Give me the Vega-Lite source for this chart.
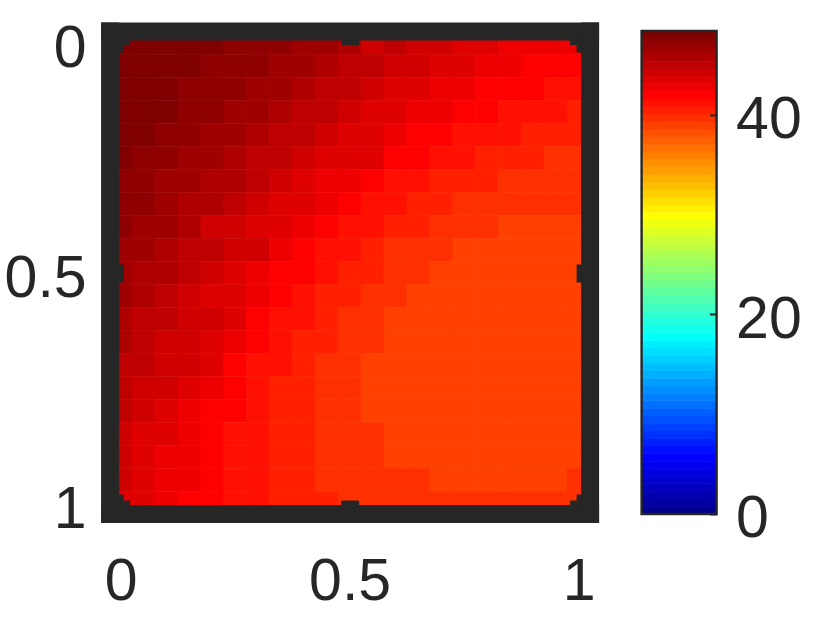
{"$schema":"https://vega.github.io/schema/vega-lite/v6.json","background":"white","padding":{"left":3.6,"top":19,"right":0,"bottom":0},"spacing":41,"config":{"view":{"stroke":null},"font":"Liberation Sans","axis":{"grid":false,"title":null,"labelFont":"Liberation Sans","labelFontSize":59,"labelColor":"#262626"}},"resolve":{"scale":{"color":"shared"}},"hconcat":[{"width":480,"height":482.5,"data":{"values":[
{"x":0,"y":0,"v":48.02},{"x":0.05,"y":0,"v":48.02},{"x":0.1,"y":0,"v":48.02},{"x":0.15,"y":0,"v":48.02},{"x":0.2,"y":0,"v":48.02},{"x":0.25,"y":0,"v":47.27},{"x":0.3,"y":0,"v":47.27},{"x":0.35,"y":0,"v":47.27},{"x":0.4,"y":0,"v":46.51},{"x":0.45,"y":0,"v":46.51},{"x":0.5,"y":0,"v":45.75},{"x":0.55,"y":0,"v":44.24},{"x":0.6,"y":0,"v":45},{"x":0.65,"y":0,"v":44.24},{"x":0.7,"y":0,"v":44.24},{"x":0.75,"y":0,"v":43.48},{"x":0.8,"y":0,"v":43.48},{"x":0.85,"y":0,"v":42.73},{"x":0.9,"y":0,"v":42.73},{"x":0.95,"y":0,"v":42.73},{"x":1,"y":0,"v":42.73},
{"x":0,"y":0.05,"v":48.02},{"x":0.05,"y":0.05,"v":48.02},{"x":0.1,"y":0.05,"v":48.02},{"x":0.15,"y":0.05,"v":48.02},{"x":0.2,"y":0.05,"v":47.27},{"x":0.25,"y":0.05,"v":47.27},{"x":0.3,"y":0.05,"v":47.27},{"x":0.35,"y":0.05,"v":46.51},{"x":0.4,"y":0.05,"v":46.51},{"x":0.45,"y":0.05,"v":45.75},{"x":0.5,"y":0.05,"v":45},{"x":0.55,"y":0.05,"v":45},{"x":0.6,"y":0.05,"v":44.24},{"x":0.65,"y":0.05,"v":44.24},{"x":0.7,"y":0.05,"v":43.48},{"x":0.75,"y":0.05,"v":43.48},{"x":0.8,"y":0.05,"v":42.73},{"x":0.85,"y":0.05,"v":42.73},{"x":0.9,"y":0.05,"v":41.97},{"x":0.95,"y":0.05,"v":41.97},{"x":1,"y":0.05,"v":41.97},
{"x":0,"y":0.1,"v":48.02},{"x":0.05,"y":0.1,"v":48.02},{"x":0.1,"y":0.1,"v":48.02},{"x":0.15,"y":0.1,"v":47.27},{"x":0.2,"y":0.1,"v":47.27},{"x":0.25,"y":0.1,"v":47.27},{"x":0.3,"y":0.1,"v":46.51},{"x":0.35,"y":0.1,"v":46.51},{"x":0.4,"y":0.1,"v":45.75},{"x":0.45,"y":0.1,"v":45},{"x":0.5,"y":0.1,"v":45},{"x":0.55,"y":0.1,"v":44.24},{"x":0.6,"y":0.1,"v":43.48},{"x":0.65,"y":0.1,"v":43.48},{"x":0.7,"y":0.1,"v":42.73},{"x":0.75,"y":0.1,"v":42.73},{"x":0.8,"y":0.1,"v":41.97},{"x":0.85,"y":0.1,"v":41.97},{"x":0.9,"y":0.1,"v":41.97},{"x":0.95,"y":0.1,"v":41.22},{"x":1,"y":0.1,"v":41.22},
{"x":0,"y":0.15,"v":48.02},{"x":0.05,"y":0.15,"v":48.02},{"x":0.1,"y":0.15,"v":48.02},{"x":0.15,"y":0.15,"v":47.27},{"x":0.2,"y":0.15,"v":47.27},{"x":0.25,"y":0.15,"v":46.51},{"x":0.3,"y":0.15,"v":46.51},{"x":0.35,"y":0.15,"v":45.75},{"x":0.4,"y":0.15,"v":45},{"x":0.45,"y":0.15,"v":45},{"x":0.5,"y":0.15,"v":44.24},{"x":0.55,"y":0.15,"v":43.48},{"x":0.6,"y":0.15,"v":43.48},{"x":0.65,"y":0.15,"v":42.73},{"x":0.7,"y":0.15,"v":42.73},{"x":0.75,"y":0.15,"v":41.97},{"x":0.8,"y":0.15,"v":41.97},{"x":0.85,"y":0.15,"v":41.22},{"x":0.9,"y":0.15,"v":41.22},{"x":0.95,"y":0.15,"v":41.22},{"x":1,"y":0.15,"v":40.46},
{"x":0,"y":0.2,"v":48.02},{"x":0.05,"y":0.2,"v":48.02},{"x":0.1,"y":0.2,"v":47.27},{"x":0.15,"y":0.2,"v":47.27},{"x":0.2,"y":0.2,"v":46.51},{"x":0.25,"y":0.2,"v":46.51},{"x":0.3,"y":0.2,"v":45.75},{"x":0.35,"y":0.2,"v":45},{"x":0.4,"y":0.2,"v":45},{"x":0.45,"y":0.2,"v":44.24},{"x":0.5,"y":0.2,"v":43.48},{"x":0.55,"y":0.2,"v":43.48},{"x":0.6,"y":0.2,"v":42.73},{"x":0.65,"y":0.2,"v":41.97},{"x":0.7,"y":0.2,"v":41.97},{"x":0.75,"y":0.2,"v":41.22},{"x":0.8,"y":0.2,"v":41.22},{"x":0.85,"y":0.2,"v":41.22},{"x":0.9,"y":0.2,"v":40.46},{"x":0.95,"y":0.2,"v":40.46},{"x":1,"y":0.2,"v":40.46},
{"x":0,"y":0.25,"v":48.02},{"x":0.05,"y":0.25,"v":47.27},{"x":0.1,"y":0.25,"v":47.27},{"x":0.15,"y":0.25,"v":46.51},{"x":0.2,"y":0.25,"v":46.51},{"x":0.25,"y":0.25,"v":45.75},{"x":0.3,"y":0.25,"v":45},{"x":0.35,"y":0.25,"v":45},{"x":0.4,"y":0.25,"v":44.24},{"x":0.45,"y":0.25,"v":43.48},{"x":0.5,"y":0.25,"v":43.48},{"x":0.55,"y":0.25,"v":43.48},{"x":0.6,"y":0.25,"v":41.97},{"x":0.65,"y":0.25,"v":41.97},{"x":0.7,"y":0.25,"v":41.22},{"x":0.75,"y":0.25,"v":41.22},{"x":0.8,"y":0.25,"v":40.46},{"x":0.85,"y":0.25,"v":40.46},{"x":0.9,"y":0.25,"v":40.46},{"x":0.95,"y":0.25,"v":39.7},{"x":1,"y":0.25,"v":39.7},
{"x":0,"y":0.3,"v":47.27},{"x":0.05,"y":0.3,"v":47.27},{"x":0.1,"y":0.3,"v":46.51},{"x":0.15,"y":0.3,"v":46.51},{"x":0.2,"y":0.3,"v":45.75},{"x":0.25,"y":0.3,"v":45.75},{"x":0.3,"y":0.3,"v":45},{"x":0.35,"y":0.3,"v":44.24},{"x":0.4,"y":0.3,"v":43.48},{"x":0.45,"y":0.3,"v":42.73},{"x":0.5,"y":0.3,"v":42.73},{"x":0.55,"y":0.3,"v":41.97},{"x":0.6,"y":0.3,"v":41.22},{"x":0.65,"y":0.3,"v":41.22},{"x":0.7,"y":0.3,"v":40.46},{"x":0.75,"y":0.3,"v":40.46},{"x":0.8,"y":0.3,"v":40.46},{"x":0.85,"y":0.3,"v":39.7},{"x":0.9,"y":0.3,"v":39.7},{"x":0.95,"y":0.3,"v":39.7},{"x":1,"y":0.3,"v":39.7},
{"x":0,"y":0.35,"v":47.27},{"x":0.05,"y":0.35,"v":47.27},{"x":0.1,"y":0.35,"v":46.51},{"x":0.15,"y":0.35,"v":45.75},{"x":0.2,"y":0.35,"v":45.75},{"x":0.25,"y":0.35,"v":45},{"x":0.3,"y":0.35,"v":44.24},{"x":0.35,"y":0.35,"v":43.48},{"x":0.4,"y":0.35,"v":43.48},{"x":0.45,"y":0.35,"v":42.73},{"x":0.5,"y":0.35,"v":41.97},{"x":0.55,"y":0.35,"v":41.22},{"x":0.6,"y":0.35,"v":41.22},{"x":0.65,"y":0.35,"v":40.46},{"x":0.7,"y":0.35,"v":40.46},{"x":0.75,"y":0.35,"v":39.7},{"x":0.8,"y":0.35,"v":39.7},{"x":0.85,"y":0.35,"v":39.7},{"x":0.9,"y":0.35,"v":39.7},{"x":0.95,"y":0.35,"v":39.7},{"x":1,"y":0.35,"v":39.7},
{"x":0,"y":0.4,"v":47.27},{"x":0.05,"y":0.4,"v":46.51},{"x":0.1,"y":0.4,"v":46.51},{"x":0.15,"y":0.4,"v":45.75},{"x":0.2,"y":0.4,"v":44.24},{"x":0.25,"y":0.4,"v":44.24},{"x":0.3,"y":0.4,"v":43.48},{"x":0.35,"y":0.4,"v":43.48},{"x":0.4,"y":0.4,"v":42.73},{"x":0.45,"y":0.4,"v":41.97},{"x":0.5,"y":0.4,"v":41.22},{"x":0.55,"y":0.4,"v":41.22},{"x":0.6,"y":0.4,"v":40.46},{"x":0.65,"y":0.4,"v":40.46},{"x":0.7,"y":0.4,"v":39.7},{"x":0.75,"y":0.4,"v":39.7},{"x":0.8,"y":0.4,"v":39.7},{"x":0.85,"y":0.4,"v":38.95},{"x":0.9,"y":0.4,"v":38.95},{"x":0.95,"y":0.4,"v":38.95},{"x":1,"y":0.4,"v":38.95},
{"x":0,"y":0.45,"v":46.51},{"x":0.05,"y":0.45,"v":46.51},{"x":0.1,"y":0.45,"v":45.75},{"x":0.15,"y":0.45,"v":45},{"x":0.2,"y":0.45,"v":45},{"x":0.25,"y":0.45,"v":44.24},{"x":0.3,"y":0.45,"v":44.24},{"x":0.35,"y":0.45,"v":42.73},{"x":0.4,"y":0.45,"v":41.97},{"x":0.45,"y":0.45,"v":41.22},{"x":0.5,"y":0.45,"v":41.22},{"x":0.55,"y":0.45,"v":40.46},{"x":0.6,"y":0.45,"v":39.7},{"x":0.65,"y":0.45,"v":39.7},{"x":0.7,"y":0.45,"v":39.7},{"x":0.75,"y":0.45,"v":38.95},{"x":0.8,"y":0.45,"v":38.95},{"x":0.85,"y":0.45,"v":38.95},{"x":0.9,"y":0.45,"v":38.95},{"x":0.95,"y":0.45,"v":38.95},{"x":1,"y":0.45,"v":38.95},
{"x":0,"y":0.5,"v":46.51},{"x":0.05,"y":0.5,"v":45.75},{"x":0.1,"y":0.5,"v":45.75},{"x":0.15,"y":0.5,"v":45},{"x":0.2,"y":0.5,"v":44.24},{"x":0.25,"y":0.5,"v":43.48},{"x":0.3,"y":0.5,"v":42.73},{"x":0.35,"y":0.5,"v":41.97},{"x":0.4,"y":0.5,"v":41.97},{"x":0.45,"y":0.5,"v":41.22},{"x":0.5,"y":0.5,"v":40.46},{"x":0.55,"y":0.5,"v":40.46},{"x":0.6,"y":0.5,"v":39.7},{"x":0.65,"y":0.5,"v":39.7},{"x":0.7,"y":0.5,"v":38.95},{"x":0.75,"y":0.5,"v":38.95},{"x":0.8,"y":0.5,"v":38.95},{"x":0.85,"y":0.5,"v":38.95},{"x":0.9,"y":0.5,"v":38.95},{"x":0.95,"y":0.5,"v":38.95},{"x":1,"y":0.5,"v":38.95},
{"x":0,"y":0.55,"v":46.51},{"x":0.05,"y":0.55,"v":45.75},{"x":0.1,"y":0.55,"v":45},{"x":0.15,"y":0.55,"v":44.24},{"x":0.2,"y":0.55,"v":43.48},{"x":0.25,"y":0.55,"v":43.48},{"x":0.3,"y":0.55,"v":42.73},{"x":0.35,"y":0.55,"v":41.97},{"x":0.4,"y":0.55,"v":41.22},{"x":0.45,"y":0.55,"v":40.46},{"x":0.5,"y":0.55,"v":40.46},{"x":0.55,"y":0.55,"v":39.7},{"x":0.6,"y":0.55,"v":39.7},{"x":0.65,"y":0.55,"v":38.95},{"x":0.7,"y":0.55,"v":38.95},{"x":0.75,"y":0.55,"v":38.95},{"x":0.8,"y":0.55,"v":38.95},{"x":0.85,"y":0.55,"v":38.95},{"x":0.9,"y":0.55,"v":38.95},{"x":0.95,"y":0.55,"v":38.95},{"x":1,"y":0.55,"v":38.95},
{"x":0,"y":0.6,"v":45.75},{"x":0.05,"y":0.6,"v":45},{"x":0.1,"y":0.6,"v":45},{"x":0.15,"y":0.6,"v":44.24},{"x":0.2,"y":0.6,"v":44.24},{"x":0.25,"y":0.6,"v":43.48},{"x":0.3,"y":0.6,"v":41.97},{"x":0.35,"y":0.6,"v":41.22},{"x":0.4,"y":0.6,"v":41.22},{"x":0.45,"y":0.6,"v":40.46},{"x":0.5,"y":0.6,"v":39.7},{"x":0.55,"y":0.6,"v":39.7},{"x":0.6,"y":0.6,"v":38.95},{"x":0.65,"y":0.6,"v":38.95},{"x":0.7,"y":0.6,"v":38.95},{"x":0.75,"y":0.6,"v":38.95},{"x":0.8,"y":0.6,"v":38.95},{"x":0.85,"y":0.6,"v":38.95},{"x":0.9,"y":0.6,"v":38.95},{"x":0.95,"y":0.6,"v":38.95},{"x":1,"y":0.6,"v":38.95},
{"x":0,"y":0.65,"v":45.75},{"x":0.05,"y":0.65,"v":45},{"x":0.1,"y":0.65,"v":44.24},{"x":0.15,"y":0.65,"v":44.24},{"x":0.2,"y":0.65,"v":43.48},{"x":0.25,"y":0.65,"v":42.73},{"x":0.3,"y":0.65,"v":41.97},{"x":0.35,"y":0.65,"v":41.22},{"x":0.4,"y":0.65,"v":40.46},{"x":0.45,"y":0.65,"v":40.46},{"x":0.5,"y":0.65,"v":39.7},{"x":0.55,"y":0.65,"v":39.7},{"x":0.6,"y":0.65,"v":38.95},{"x":0.65,"y":0.65,"v":38.95},{"x":0.7,"y":0.65,"v":38.95},{"x":0.75,"y":0.65,"v":38.95},{"x":0.8,"y":0.65,"v":38.95},{"x":0.85,"y":0.65,"v":38.95},{"x":0.9,"y":0.65,"v":38.95},{"x":0.95,"y":0.65,"v":38.95},{"x":1,"y":0.65,"v":38.95},
{"x":0,"y":0.7,"v":45},{"x":0.05,"y":0.7,"v":45},{"x":0.1,"y":0.7,"v":44.24},{"x":0.15,"y":0.7,"v":44.24},{"x":0.2,"y":0.7,"v":43.48},{"x":0.25,"y":0.7,"v":41.97},{"x":0.3,"y":0.7,"v":41.22},{"x":0.35,"y":0.7,"v":41.22},{"x":0.4,"y":0.7,"v":40.46},{"x":0.45,"y":0.7,"v":39.7},{"x":0.5,"y":0.7,"v":39.7},{"x":0.55,"y":0.7,"v":38.95},{"x":0.6,"y":0.7,"v":38.95},{"x":0.65,"y":0.7,"v":38.95},{"x":0.7,"y":0.7,"v":38.95},{"x":0.75,"y":0.7,"v":38.95},{"x":0.8,"y":0.7,"v":38.95},{"x":0.85,"y":0.7,"v":38.95},{"x":0.9,"y":0.7,"v":38.95},{"x":0.95,"y":0.7,"v":38.95},{"x":1,"y":0.7,"v":38.95},
{"x":0,"y":0.75,"v":45},{"x":0.05,"y":0.75,"v":44.24},{"x":0.1,"y":0.75,"v":44.24},{"x":0.15,"y":0.75,"v":43.48},{"x":0.2,"y":0.75,"v":42.73},{"x":0.25,"y":0.75,"v":41.97},{"x":0.3,"y":0.75,"v":41.22},{"x":0.35,"y":0.75,"v":40.46},{"x":0.4,"y":0.75,"v":40.46},{"x":0.45,"y":0.75,"v":39.7},{"x":0.5,"y":0.75,"v":39.7},{"x":0.55,"y":0.75,"v":38.95},{"x":0.6,"y":0.75,"v":38.95},{"x":0.65,"y":0.75,"v":38.95},{"x":0.7,"y":0.75,"v":38.95},{"x":0.75,"y":0.75,"v":38.95},{"x":0.8,"y":0.75,"v":38.95},{"x":0.85,"y":0.75,"v":38.95},{"x":0.9,"y":0.75,"v":38.95},{"x":0.95,"y":0.75,"v":38.95},{"x":1,"y":0.75,"v":38.95},
{"x":0,"y":0.8,"v":45},{"x":0.05,"y":0.8,"v":44.24},{"x":0.1,"y":0.8,"v":43.48},{"x":0.15,"y":0.8,"v":42.73},{"x":0.2,"y":0.8,"v":41.97},{"x":0.25,"y":0.8,"v":41.97},{"x":0.3,"y":0.8,"v":41.22},{"x":0.35,"y":0.8,"v":40.46},{"x":0.4,"y":0.8,"v":40.46},{"x":0.45,"y":0.8,"v":39.7},{"x":0.5,"y":0.8,"v":39.7},{"x":0.55,"y":0.8,"v":38.95},{"x":0.6,"y":0.8,"v":38.95},{"x":0.65,"y":0.8,"v":38.95},{"x":0.7,"y":0.8,"v":38.95},{"x":0.75,"y":0.8,"v":38.95},{"x":0.8,"y":0.8,"v":38.95},{"x":0.85,"y":0.8,"v":38.95},{"x":0.9,"y":0.8,"v":38.95},{"x":0.95,"y":0.8,"v":38.95},{"x":1,"y":0.8,"v":38.95},
{"x":0,"y":0.85,"v":44.24},{"x":0.05,"y":0.85,"v":43.48},{"x":0.1,"y":0.85,"v":43.48},{"x":0.15,"y":0.85,"v":42.73},{"x":0.2,"y":0.85,"v":41.97},{"x":0.25,"y":0.85,"v":41.22},{"x":0.3,"y":0.85,"v":41.22},{"x":0.35,"y":0.85,"v":40.46},{"x":0.4,"y":0.85,"v":40.46},{"x":0.45,"y":0.85,"v":39.7},{"x":0.5,"y":0.85,"v":39.7},{"x":0.55,"y":0.85,"v":39.7},{"x":0.6,"y":0.85,"v":38.95},{"x":0.65,"y":0.85,"v":38.95},{"x":0.7,"y":0.85,"v":38.95},{"x":0.75,"y":0.85,"v":38.95},{"x":0.8,"y":0.85,"v":38.95},{"x":0.85,"y":0.85,"v":38.95},{"x":0.9,"y":0.85,"v":38.95},{"x":0.95,"y":0.85,"v":38.95},{"x":1,"y":0.85,"v":38.95},
{"x":0,"y":0.9,"v":44.24},{"x":0.05,"y":0.9,"v":43.48},{"x":0.1,"y":0.9,"v":42.73},{"x":0.15,"y":0.9,"v":42.73},{"x":0.2,"y":0.9,"v":41.97},{"x":0.25,"y":0.9,"v":41.22},{"x":0.3,"y":0.9,"v":41.22},{"x":0.35,"y":0.9,"v":40.46},{"x":0.4,"y":0.9,"v":40.46},{"x":0.45,"y":0.9,"v":39.7},{"x":0.5,"y":0.9,"v":39.7},{"x":0.55,"y":0.9,"v":39.7},{"x":0.6,"y":0.9,"v":38.95},{"x":0.65,"y":0.9,"v":38.95},{"x":0.7,"y":0.9,"v":38.95},{"x":0.75,"y":0.9,"v":38.95},{"x":0.8,"y":0.9,"v":38.95},{"x":0.85,"y":0.9,"v":38.95},{"x":0.9,"y":0.9,"v":38.95},{"x":0.95,"y":0.9,"v":38.95},{"x":1,"y":0.9,"v":38.95},
{"x":0,"y":0.95,"v":44.24},{"x":0.05,"y":0.95,"v":43.48},{"x":0.1,"y":0.95,"v":42.73},{"x":0.15,"y":0.95,"v":42.73},{"x":0.2,"y":0.95,"v":41.97},{"x":0.25,"y":0.95,"v":41.22},{"x":0.3,"y":0.95,"v":41.22},{"x":0.35,"y":0.95,"v":40.46},{"x":0.4,"y":0.95,"v":40.46},{"x":0.45,"y":0.95,"v":39.7},{"x":0.5,"y":0.95,"v":39.7},{"x":0.55,"y":0.95,"v":39.7},{"x":0.6,"y":0.95,"v":39.7},{"x":0.65,"y":0.95,"v":39.7},{"x":0.7,"y":0.95,"v":38.95},{"x":0.75,"y":0.95,"v":38.95},{"x":0.8,"y":0.95,"v":38.95},{"x":0.85,"y":0.95,"v":38.95},{"x":0.9,"y":0.95,"v":38.95},{"x":0.95,"y":0.95,"v":38.95},{"x":1,"y":0.95,"v":39.7},
{"x":0,"y":1,"v":43.48},{"x":0.05,"y":1,"v":43.48},{"x":0.1,"y":1,"v":42.73},{"x":0.15,"y":1,"v":41.97},{"x":0.2,"y":1,"v":41.97},{"x":0.25,"y":1,"v":41.22},{"x":0.3,"y":1,"v":41.22},{"x":0.35,"y":1,"v":40.46},{"x":0.4,"y":1,"v":40.46},{"x":0.45,"y":1,"v":40.46},{"x":0.5,"y":1,"v":39.7},{"x":0.55,"y":1,"v":39.7},{"x":0.6,"y":1,"v":39.7},{"x":0.65,"y":1,"v":39.7},{"x":0.7,"y":1,"v":39.7},{"x":0.75,"y":1,"v":39.7},{"x":0.8,"y":1,"v":39.7},{"x":0.85,"y":1,"v":39.7},{"x":0.9,"y":1,"v":39.7},{"x":0.95,"y":1,"v":39.7},{"x":1,"y":1,"v":39.7}
]},"resolve":{"axis":{"x":"independent","y":"independent"}},"layer":[{"mark":{"type":"rect","width":23.6,"height":23.6},"encoding":{"x":{"field":"x","type":"quantitative","scale":{"domain":[-0.024,1.024],"nice":false,"zero":false},"axis":{"orient":"bottom","values":[0,0.5,1],"format":"~g","zindex":1,"domainWidth":18,"domainColor":"#262626","domainCap":"square","tickColor":"#262626","tickWidth":18,"tickSize":-13.5,"labelPadding":53,"labelFlush":false,"labelOverlap":false}},"y":{"field":"y","type":"quantitative","scale":{"domain":[-0.026,1.0228],"reverse":true,"nice":false,"zero":false},"axis":{"orient":"left","values":[0,0.5,1],"format":"~g","zindex":1,"domainWidth":18,"domainColor":"#262626","domainCap":"square","tickColor":"#262626","tickWidth":18,"tickSize":-13.5,"labelPadding":37,"labelOffset":6,"labelFlush":false,"labelOverlap":false}},"color":{"field":"v","type":"quantitative","legend":null,"scale":{"type":"quantize","domain":[0,48.4],"range":["#00008f","#00009f","#0000af","#0000bf","#0000cf","#0000df","#0000ef","#0000ff","#0010ff","#0020ff","#0030ff","#0040ff","#0050ff","#0060ff","#0070ff","#0080ff","#008fff","#009fff","#00afff","#00bfff","#00cfff","#00dfff","#00efff","#00ffff","#10ffef","#20ffdf","#30ffcf","#40ffbf","#50ffaf","#60ff9f","#70ff8f","#80ff80","#8fff70","#9fff60","#afff50","#bfff40","#cfff30","#dfff20","#efff10","#ffff00","#ffef00","#ffdf00","#ffcf00","#ffbf00","#ffaf00","#ff9f00","#ff8f00","#ff8000","#ff7000","#ff6000","#ff5000","#ff4000","#ff3000","#ff2000","#ff1000","#ff0000","#ef0000","#df0000","#cf0000","#bf0000","#af0000","#9f0000","#8f0000","#800000"]}}}},{"data":{"values":[{"x":0,"y":0}]},"mark":{"type":"point","opacity":0},"encoding":{"x":{"field":"x","type":"quantitative","scale":{"domain":[-0.024,1.024],"nice":false,"zero":false},"axis":{"orient":"top","values":[0,0.5,1],"labels":false,"zindex":1,"domainWidth":18,"domainColor":"#262626","domainCap":"square","tickColor":"#262626","tickWidth":18,"tickSize":-13.5}},"y":{"field":"y","type":"quantitative","scale":{"domain":[-0.026,1.0228],"reverse":true,"nice":false,"zero":false},"axis":{"orient":"right","values":[0,0.5,1],"labels":false,"zindex":1,"domainWidth":18,"domainColor":"#262626","domainCap":"square","tickColor":"#262626","tickWidth":18,"tickSize":-13.5}}}}]},
{"width":75,"height":483,"data":{"values":[{"lo":0,"hi":0.756,"v":0.378},{"lo":0.756,"hi":1.513,"v":1.134},{"lo":1.513,"hi":2.269,"v":1.891},{"lo":2.269,"hi":3.025,"v":2.647},{"lo":3.025,"hi":3.781,"v":3.403},{"lo":3.781,"hi":4.538,"v":4.159},{"lo":4.538,"hi":5.294,"v":4.916},{"lo":5.294,"hi":6.05,"v":5.672},{"lo":6.05,"hi":6.806,"v":6.428},{"lo":6.806,"hi":7.563,"v":7.184},{"lo":7.563,"hi":8.319,"v":7.941},{"lo":8.319,"hi":9.075,"v":8.697},{"lo":9.075,"hi":9.831,"v":9.453},{"lo":9.831,"hi":10.588,"v":10.209},{"lo":10.588,"hi":11.344,"v":10.966},{"lo":11.344,"hi":12.1,"v":11.722},{"lo":12.1,"hi":12.856,"v":12.478},{"lo":12.856,"hi":13.613,"v":13.234},{"lo":13.613,"hi":14.369,"v":13.991},{"lo":14.369,"hi":15.125,"v":14.747},{"lo":15.125,"hi":15.881,"v":15.503},{"lo":15.881,"hi":16.638,"v":16.259},{"lo":16.638,"hi":17.394,"v":17.016},{"lo":17.394,"hi":18.15,"v":17.772},{"lo":18.15,"hi":18.906,"v":18.528},{"lo":18.906,"hi":19.663,"v":19.284},{"lo":19.663,"hi":20.419,"v":20.041},{"lo":20.419,"hi":21.175,"v":20.797},{"lo":21.175,"hi":21.931,"v":21.553},{"lo":21.931,"hi":22.688,"v":22.309},{"lo":22.688,"hi":23.444,"v":23.066},{"lo":23.444,"hi":24.2,"v":23.822},{"lo":24.2,"hi":24.956,"v":24.578},{"lo":24.956,"hi":25.713,"v":25.334},{"lo":25.713,"hi":26.469,"v":26.091},{"lo":26.469,"hi":27.225,"v":26.847},{"lo":27.225,"hi":27.981,"v":27.603},{"lo":27.981,"hi":28.738,"v":28.359},{"lo":28.738,"hi":29.494,"v":29.116},{"lo":29.494,"hi":30.25,"v":29.872},{"lo":30.25,"hi":31.006,"v":30.628},{"lo":31.006,"hi":31.763,"v":31.384},{"lo":31.763,"hi":32.519,"v":32.141},{"lo":32.519,"hi":33.275,"v":32.897},{"lo":33.275,"hi":34.031,"v":33.653},{"lo":34.031,"hi":34.788,"v":34.409},{"lo":34.788,"hi":35.544,"v":35.166},{"lo":35.544,"hi":36.3,"v":35.922},{"lo":36.3,"hi":37.056,"v":36.678},{"lo":37.056,"hi":37.813,"v":37.434},{"lo":37.813,"hi":38.569,"v":38.191},{"lo":38.569,"hi":39.325,"v":38.947},{"lo":39.325,"hi":40.081,"v":39.703},{"lo":40.081,"hi":40.838,"v":40.459},{"lo":40.838,"hi":41.594,"v":41.216},{"lo":41.594,"hi":42.35,"v":41.972},{"lo":42.35,"hi":43.106,"v":42.728},{"lo":43.106,"hi":43.863,"v":43.484},{"lo":43.863,"hi":44.619,"v":44.241},{"lo":44.619,"hi":45.375,"v":44.997},{"lo":45.375,"hi":46.131,"v":45.753},{"lo":46.131,"hi":46.888,"v":46.509},{"lo":46.888,"hi":47.644,"v":47.266},{"lo":47.644,"hi":48.4,"v":48.022}]},"layer":[{"mark":{"type":"rect","strokeWidth":0.7},"encoding":{"y":{"field":"lo","type":"quantitative","scale":{"domain":[0,48.4],"nice":false,"zero":false},"axis":{"orient":"right","values":[0,20,40],"zindex":1,"domain":false,"tickColor":"#262626","tickWidth":2,"tickSize":-7,"labelPadding":26,"labelOffset":5,"labelFlush":false,"labelOverlap":false}},"y2":{"field":"hi"},"color":{"field":"v","type":"quantitative","legend":null,"scale":{"type":"quantize","domain":[0,48.4],"range":["#00008f","#00009f","#0000af","#0000bf","#0000cf","#0000df","#0000ef","#0000ff","#0010ff","#0020ff","#0030ff","#0040ff","#0050ff","#0060ff","#0070ff","#0080ff","#008fff","#009fff","#00afff","#00bfff","#00cfff","#00dfff","#00efff","#00ffff","#10ffef","#20ffdf","#30ffcf","#40ffbf","#50ffaf","#60ff9f","#70ff8f","#80ff80","#8fff70","#9fff60","#afff50","#bfff40","#cfff30","#dfff20","#efff10","#ffff00","#ffef00","#ffdf00","#ffcf00","#ffbf00","#ffaf00","#ff9f00","#ff8f00","#ff8000","#ff7000","#ff6000","#ff5000","#ff4000","#ff3000","#ff2000","#ff1000","#ff0000","#ef0000","#df0000","#cf0000","#bf0000","#af0000","#9f0000","#8f0000","#800000"]}},"stroke":{"field":"v","type":"quantitative","legend":null,"scale":{"type":"quantize","domain":[0,48.4],"range":["#00008f","#00009f","#0000af","#0000bf","#0000cf","#0000df","#0000ef","#0000ff","#0010ff","#0020ff","#0030ff","#0040ff","#0050ff","#0060ff","#0070ff","#0080ff","#008fff","#009fff","#00afff","#00bfff","#00cfff","#00dfff","#00efff","#00ffff","#10ffef","#20ffdf","#30ffcf","#40ffbf","#50ffaf","#60ff9f","#70ff8f","#80ff80","#8fff70","#9fff60","#afff50","#bfff40","#cfff30","#dfff20","#efff10","#ffff00","#ffef00","#ffdf00","#ffcf00","#ffbf00","#ffaf00","#ff9f00","#ff8f00","#ff8000","#ff7000","#ff6000","#ff5000","#ff4000","#ff3000","#ff2000","#ff1000","#ff0000","#ef0000","#df0000","#cf0000","#bf0000","#af0000","#9f0000","#8f0000","#800000"]}}}},{"data":{"values":[{"lo":0,"hi":48.4}]},"mark":{"type":"rect","fill":"transparent","stroke":"#262626","strokeWidth":2.4},"encoding":{"y":{"field":"lo","type":"quantitative"},"y2":{"field":"hi"}}}]}]}
